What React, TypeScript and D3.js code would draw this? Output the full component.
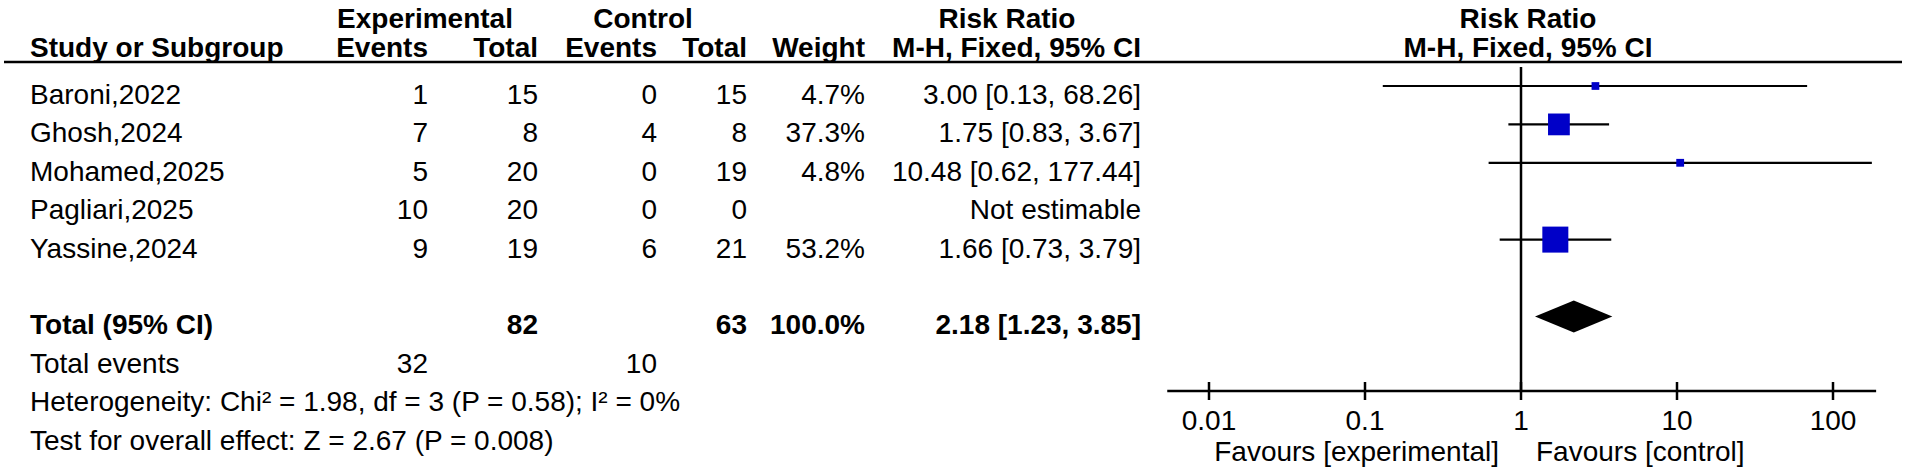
import React from "react";
import * as d3 from "d3";

const studies = ["Baroni,2022", "Ghosh,2024", "Mohamed,2025", "Pagliari,2025", "Yassine,2024"];
const expEvents = [1, 7, 5, 10, 9];
const expTotal = [15, 8, 20, 20, 19];
const ctrlEvents = [0, 4, 0, 0, 6];
const ctrlTotal = [15, 8, 19, 0, 21];
const weights: (number | null)[] = [4.7, 37.3, 4.8, null, 53.2];
const rr: (number | null)[] = [3.0, 1.75, 10.48, null, 1.66];
const ciLow: (number | null)[] = [0.13, 0.83, 0.62, null, 0.73];
const ciHigh: (number | null)[] = [68.26, 3.67, 177.44, null, 3.79];

const totalLabel = "Total (95% CI)";
const totalExp = 82;
const totalCtrl = 63;
const totalWeight = 100.0;
const totalRR = 2.18;
const totalLow = 1.23;
const totalHigh = 3.85;
const totalEventsExp = 32;
const totalEventsCtrl = 10;
const heterogeneity = "Heterogeneity: Chi\u00B2 = 1.98, df = 3 (P = 0.58); I\u00B2 = 0%";
const overallEffect = "Test for overall effect: Z = 2.67 (P = 0.008)";

const tickValues = [0.01, 0.1, 1, 10, 100];
const tickLabels = ["0.01", "0.1", "1", "10", "100"];
const axisDomain = [0.0054, 189];

const W = 1907;
const H = 474;
const FONT = "'Liberation Sans', Arial, sans-serif";
const FS = 28;

const x = d3.scaleLog().domain([0.01, 100]).range([1209, 1833]);
const row = d3.scaleLinear().domain([0, 9]).range([104, 449.6]);
const side = d3.scaleSqrt().domain([0, 53.2]).range([0, 26]);

const col = {
  study: 30,
  expEv: 428,
  expTot: 538,
  ctlEv: 657,
  ctlTot: 747,
  weight: 865,
  rr: 1141,
};

const f2 = d3.format(".2f");
const f1 = d3.format(".1f");
const ciText = (m: number, l: number, h: number) => `${f2(m)} [${f2(l)}, ${f2(h)}]`;

const MARK_OFF = 18;
const AXIS_Y = 391;
const H1 = 28;
const H2 = 57;
const HLINE = 62;

export default function App() {
  const T = (props: any) => (
    <text fontFamily={FONT} fontSize={FS} fill="#000" {...props} />
  );
  const totalRow = 6;
  const plotHeaderX = x(1) + 7;
  return (
    <svg
      width={W}
      height={H}
      viewBox={`0 0 ${W} ${H}`}
      style={{ position: "absolute", left: 0, top: 0, background: "#fff" }}
    >
      <rect x={0} y={0} width={W} height={H} fill="#fff" />
      {/* header row 1 */}
      <T x={425} y={H1} fontWeight="bold" textAnchor="middle">Experimental</T>
      <T x={643} y={H1} fontWeight="bold" textAnchor="middle">Control</T>
      <T x={1007} y={H1} fontWeight="bold" textAnchor="middle">Risk Ratio</T>
      <T x={plotHeaderX} y={H1} fontWeight="bold" textAnchor="middle">Risk Ratio</T>
      {/* header row 2 */}
      <T x={col.study} y={H2} fontWeight="bold">Study or Subgroup</T>
      <T x={col.expEv} y={H2} fontWeight="bold" textAnchor="end">Events</T>
      <T x={col.expTot} y={H2} fontWeight="bold" textAnchor="end">Total</T>
      <T x={col.ctlEv} y={H2} fontWeight="bold" textAnchor="end">Events</T>
      <T x={col.ctlTot} y={H2} fontWeight="bold" textAnchor="end">Total</T>
      <T x={col.weight} y={H2} fontWeight="bold" textAnchor="end">Weight</T>
      <T x={col.rr} y={H2} fontWeight="bold" textAnchor="end">M-H, Fixed, 95% CI</T>
      <T x={plotHeaderX} y={H2} fontWeight="bold" textAnchor="middle">M-H, Fixed, 95% CI</T>
      <line x1={4} x2={1902} y1={HLINE} y2={HLINE} stroke="#000" strokeWidth={2.5} />

      {/* study rows */}
      {studies.map((s, i) => {
        const y = row(i);
        const w = weights[i];
        const m = rr[i];
        const l = ciLow[i];
        const h = ciHigh[i];
        return (
          <g key={s}>
            <T x={col.study} y={y}>{s}</T>
            <T x={col.expEv} y={y} textAnchor="end">{expEvents[i]}</T>
            <T x={col.expTot} y={y} textAnchor="end">{expTotal[i]}</T>
            <T x={col.ctlEv} y={y} textAnchor="end">{ctrlEvents[i]}</T>
            <T x={col.ctlTot} y={y} textAnchor="end">{ctrlTotal[i]}</T>
            {w != null && <T x={col.weight} y={y} textAnchor="end">{f1(w)}%</T>}
            <T x={col.rr} y={y} textAnchor="end">
              {m != null && l != null && h != null ? ciText(m, l, h) : "Not estimable"}
            </T>
            {m != null && l != null && h != null && w != null && (
              <g>
                <line x1={x(l)} x2={x(h)} y1={y - MARK_OFF} y2={y - MARK_OFF} stroke="#000" strokeWidth={2.2} />
                <rect
                  x={x(m) - side(w) / 2}
                  y={y - MARK_OFF - side(w) / 2}
                  width={side(w)}
                  height={side(w)}
                  fill="#0000C8"
                />
              </g>
            )}
          </g>
        );
      })}

      {/* total row */}
      <T x={col.study} y={row(totalRow)} fontWeight="bold">{totalLabel}</T>
      <T x={col.expTot} y={row(totalRow)} fontWeight="bold" textAnchor="end">{totalExp}</T>
      <T x={col.ctlTot} y={row(totalRow)} fontWeight="bold" textAnchor="end">{totalCtrl}</T>
      <T x={col.weight} y={row(totalRow)} fontWeight="bold" textAnchor="end">{f1(totalWeight)}%</T>
      <T x={col.rr} y={row(totalRow)} fontWeight="bold" textAnchor="end">{ciText(totalRR, totalLow, totalHigh)}</T>
      <path
        d={`M${x(totalLow)},${row(totalRow) - MARK_OFF} L${x(totalRR)},${row(totalRow) - MARK_OFF - 16} L${x(totalHigh)},${row(totalRow) - MARK_OFF} L${x(totalRR)},${row(totalRow) - MARK_OFF + 16} Z`}
        fill="#000"
      />

      <T x={col.study} y={row(7)}>Total events</T>
      <T x={col.expEv} y={row(7)} textAnchor="end">{totalEventsExp}</T>
      <T x={col.ctlEv} y={row(7)} textAnchor="end">{totalEventsCtrl}</T>
      <T x={col.study} y={row(8)}>{heterogeneity}</T>
      <T x={col.study} y={row(9)}>{overallEffect}</T>

      {/* null line */}
      <line x1={x(1)} x2={x(1)} y1={HLINE + 5} y2={AXIS_Y} stroke="#000" strokeWidth={2.5} />
      {/* axis */}
      <line x1={x(axisDomain[0])} x2={x(axisDomain[1])} y1={AXIS_Y} y2={AXIS_Y} stroke="#000" strokeWidth={2.5} />
      {tickValues.map((t, i) => (
        <g key={t}>
          <line x1={x(t)} x2={x(t)} y1={AXIS_Y - 9} y2={AXIS_Y + 9} stroke="#000" strokeWidth={2.5} />
          <T x={x(t)} y={430} textAnchor="middle">{tickLabels[i]}</T>
        </g>
      ))}
      <T x={x(1) - 22} y={461} textAnchor="end">Favours [experimental]</T>
      <T x={x(1) + 15} y={461}>Favours [control]</T>
    </svg>
  );
}
